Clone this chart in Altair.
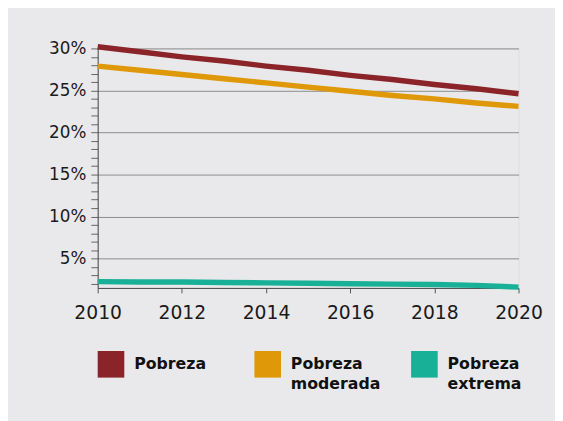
import altair as alt
import pandas as pd

years = list(range(2010, 2021))
pobreza = [30.2, 29.6, 29.0, 28.5, 27.9, 27.4, 26.8, 26.3, 25.7, 25.2, 24.6]
moderada = [27.9, 27.4, 26.9, 26.4, 25.9, 25.4, 24.9, 24.4, 24.0, 23.5, 23.1]
extrema = [2.25, 2.2, 2.2, 2.15, 2.1, 2.05, 2.0, 1.95, 1.9, 1.8, 1.6]

series_names = ["Pobreza", "Pobreza moderada", "Pobreza extrema"]
series_colors = ["#8b2428", "#df9807", "#18b197"]
x_ticks = [2010, 2012, 2014, 2016, 2018, 2020]
y_ticks = list(range(2, 31))

rows = []
for name, vals in zip(series_names, [pobreza, moderada, extrema]):
    for y, v in zip(years, vals):
        rows.append({"year": y, "value": v, "serie": name})
df = pd.DataFrame(rows)

FONT = "DejaVu Sans"

chart = alt.Chart(df).mark_line(strokeWidth=5.5).encode(
    x=alt.X("year:Q",
            scale=alt.Scale(domain=[2010, 2020], nice=False, zero=False),
            axis=alt.Axis(values=x_ticks, format="d", title=None, grid=False,
                          labelFontSize=19, labelFont=FONT, labelColor="#1a1a1a",
                          tickSize=5, tickColor="#555", domainColor="#444",
                          labelPadding=11, labelFlush=False)),
    y=alt.Y("value:Q",
            scale=alt.Scale(domain=[1.5, 30], nice=False, zero=False),
            axis=alt.Axis(values=y_ticks, title=None,
                          labelExpr="datum.value % 5 === 0 ? datum.value + '%' : ''",
                          labelFontSize=17, labelFont=FONT, labelColor="#1a1a1a",
                          tickSize=7, tickColor="#666", domainColor="#444",
                          gridColor="#8c8c8c",
                          gridOpacity=alt.condition("datum.value % 5 === 0", alt.value(1), alt.value(0)),
                          labelPadding=5)),
    color=alt.Color("serie:N",
                    scale=alt.Scale(domain=series_names, range=series_colors),
                    sort=series_names,
                    legend=alt.Legend(title=None, orient="none", legendX=0, legendY=307,
                                      direction="horizontal", columns=3,
                                      symbolType="square", symbolSize=169,
                                      symbolStrokeWidth=14, symbolOpacity=1,
                                      labelFontSize=16, labelFont=FONT,
                                      labelFontWeight="bold", labelColor="#111",
                                      labelOffset=10, labelLimit=0,
                                      gridAlign="all", columnPadding=10, padding=0,
                                      labelExpr="[split(datum.label, ' ')[0], split(datum.label, ' ')[1] || '']")),
).properties(
    width=427, height=243,
    padding={"left": 91, "top": 38, "right": 37, "bottom": 132},
    autosize=alt.AutoSizeParams(type="none"),
    background="#e9e9eb",
).configure_view(stroke=None).configure(style={"guide-label": {"lineHeight": 20}})

chart.save("out.html", embed_options={"renderer": "svg", "actions": False})
